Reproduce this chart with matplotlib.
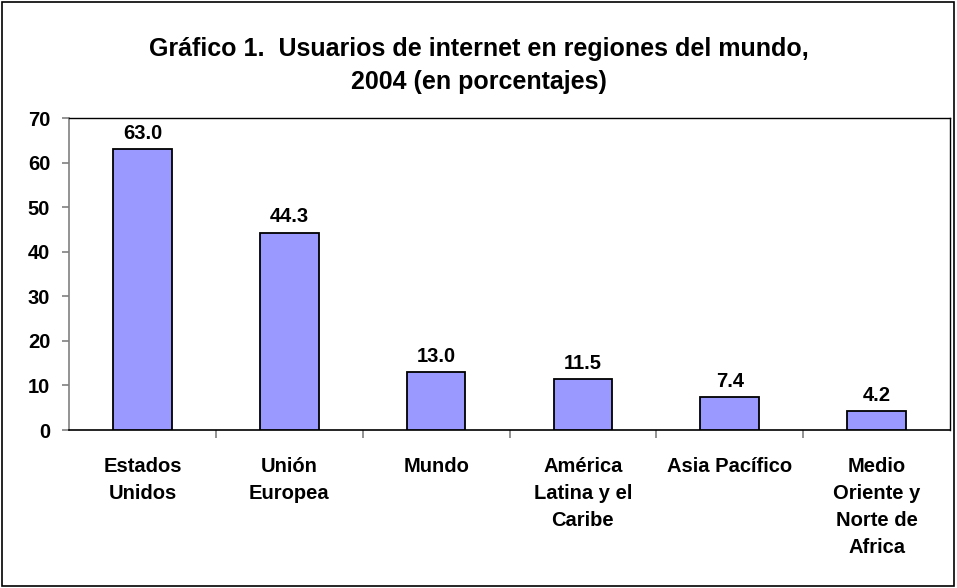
import matplotlib
matplotlib.use("Agg")
import matplotlib.pyplot as plt
from matplotlib.patches import Rectangle

plt.rcParams['font.family'] = ['Liberation Sans', 'DejaVu Sans']

categories = ["Estados\nUnidos", "Unión\nEuropea", "Mundo", "América\nLatina y el\nCaribe",
              "Asia Pacífico", "Medio\nOriente y\nNorte de\nAfrica"]
values = [63.0, 44.3, 13.0, 11.5, 7.4, 4.2]
yticks = [0, 10, 20, 30, 40, 50, 60, 70]
title = "Gráfico 1.  Usuarios de internet en regiones del mundo,\n2004 (en porcentajes)"

FS = 14.5

fig = plt.figure(figsize=(9.57, 5.88), dpi=100)
fig.patches.append(Rectangle((0.002, 0.003), 0.995, 0.994, transform=fig.transFigure,
                             fill=False, edgecolor='black', linewidth=1.2))
ax = fig.add_axes([0.0721, 0.2687, 0.9206, 0.5306])

x = list(range(len(values)))
ax.bar(x, values, width=0.4, color='#9999FF', edgecolor='black', linewidth=1.3, zorder=3)
for xi, v in zip(x, values):
    ax.text(xi, v + 1.4, f"{v:.1f}", ha='center', va='bottom', fontsize=FS, fontweight='bold')

ax.set_xlim(-0.5, len(values) - 0.5)
ax.set_ylim(0, 70)
ax.set_yticks(yticks)
ax.set_yticklabels([str(t) for t in yticks], fontsize=FS, fontweight='bold')
ax.set_xticks([i + 0.5 for i in range(len(values) - 1)])
ax.set_xticklabels([])
ax.tick_params(axis='x', direction='out', length=6, color='#808080', width=1.2)
ax.tick_params(axis='y', direction='out', length=5, color='#808080', width=1.2, pad=8.5)
for xi, lab in zip(x, categories):
    ax.text(xi, -0.085, lab, transform=ax.get_xaxis_transform(), ha='center', va='top',
            fontsize=FS, fontweight='bold', linespacing=1.55)
for s in ['top', 'right']:
    ax.spines[s].set_color('black')
    ax.spines[s].set_linewidth(1.0)
ax.spines['left'].set_color('#808080')
ax.spines['bottom'].set_color('black')
ax.spines['left'].set_linewidth(1.2)
ax.spines['bottom'].set_linewidth(1.2)

fig.text(0.5, 0.889, title, ha='center', va='center', fontsize=18, fontweight='bold',
         linespacing=1.45)

fig.savefig("out.png", dpi=100)
